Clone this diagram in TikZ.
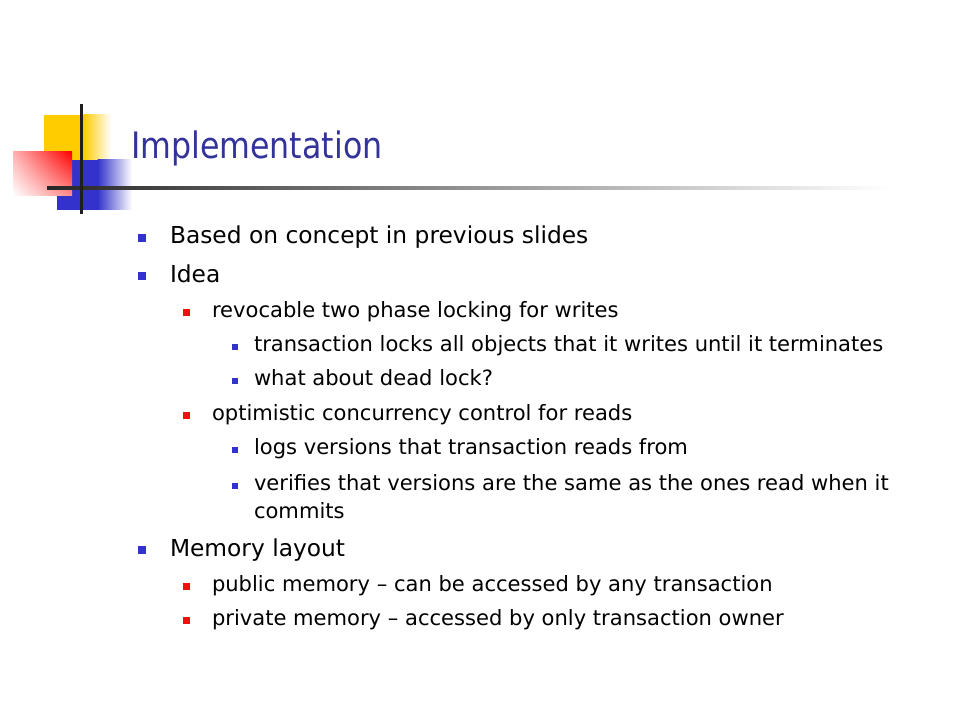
\documentclass[tikz,border=0pt]{standalone}
\usepackage{fontspec}
\usetikzlibrary{shadings}
\setmainfont{DejaVu Sans}
\newfontfamily\titlefont{DejaVu Sans}[FakeStretch=0.87]
\definecolor{titleblue}{HTML}{333399}
\definecolor{bulblue}{HTML}{3333CC}
\definecolor{bulred}{HTML}{F01010}
\definecolor{logoyellow}{HTML}{FFCC00}
\definecolor{logoblue}{HTML}{3333CC}
\begin{document}
\begin{tikzpicture}[x=0.75pt,y=-0.75pt,
  txt/.style={anchor=base west,inner sep=0pt,outer sep=0pt,text=black},
  lone/.style={txt,font=\fontsize{17.5pt}{21pt}\selectfont},
  ltwo/.style={txt,font=\fontsize{15.8pt}{18pt}\selectfont},
  bone/.style={fill=bulblue,draw=none},
  btwo/.style={fill=bulred,draw=none},
  bthree/.style={fill=bulblue,draw=none}]
\useasboundingbox (0,0) rectangle (960,720);
\fill[white] (0,0) rectangle (960,720);
% logo
\fill[logoyellow] (44,115) rectangle (84,160);
\shade[left color=logoyellow,right color=white] (83.5,115) rectangle (111,160);
\fill[logoblue] (57,160) rectangle (98,210);
\shade[left color=logoblue,right color=white] (97.5,160) rectangle (132,210);
\shade[upper right=red,lower right=red!45,upper left=red!30,lower left=white] (13,152) rectangle (72,196);
\shade[left color=black!85,middle color=black!35,right color=white] (47,186.5) rectangle (890,189.5);
\fill[black!88] (79.5,104) rectangle (82.5,214);
% title
\node[txt,text=titleblue,font=\titlefont\fontsize{27.3pt}{32pt}\selectfont] (title) at (131,158.3) {Implementation};
% level 1
\fill[bone] (138,234) rectangle (146,242);
\node[lone] (l1a) at (170,244) {Based on concept in previous slides};
\fill[bone] (138,272) rectangle (146,280);
\node[lone] (l1b) at (170,282) {Idea};
% level 2
\fill[btwo] (183,309) rectangle (190,316);
\node[ltwo] (l2a) at (212,317) {revocable two phase locking for writes};
% level 3
\fill[bthree] (232,344) rectangle (238,350);
\node[ltwo] (l3a) at (254,351) {transaction locks all objects that it writes until it terminates};
\fill[bthree] (232,378) rectangle (238,384);
\node[ltwo] (l3b) at (254,385) {what about dead lock?};
% level 2
\fill[btwo] (183,412) rectangle (190,419);
\node[ltwo] (l2b) at (212,420) {optimistic concurrency control for reads};
\fill[bthree] (232,447) rectangle (238,453);
\node[ltwo] (l3c) at (254,454) {logs versions that transaction reads from};
\fill[bthree] (232,483) rectangle (238,489);
\node[ltwo] (l3d) at (254,490) {verifies that versions are the same as the ones read when it};
\node[ltwo] (l3e) at (254,518) {commits};
% level 1
\fill[bone] (138,546) rectangle (146,554);
\node[lone] (l1c) at (170,556) {Memory layout};
\fill[btwo] (183,583) rectangle (190,590);
\node[ltwo] (l2c) at (212,591) {public memory – can be accessed by any transaction};
\fill[btwo] (183,617) rectangle (190,624);
\node[ltwo] (l2d) at (212,625) {private memory – accessed by only transaction owner};
\end{tikzpicture}
\end{document}
